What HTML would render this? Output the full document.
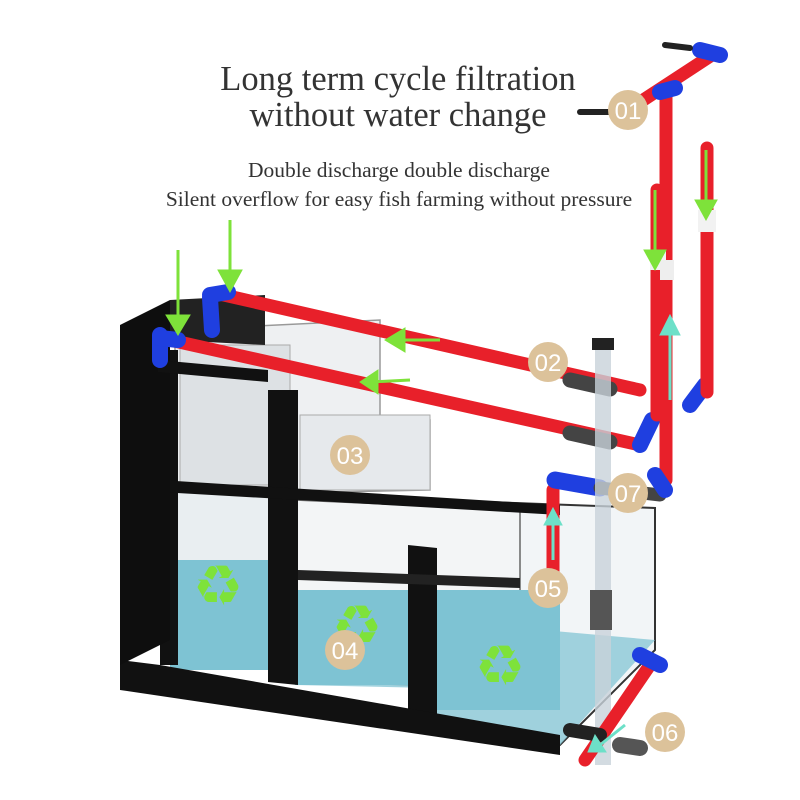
<!DOCTYPE html>
<html><head><meta charset="utf-8"><style>
body{margin:0;background:#fff}
svg{display:block}
.t{font-family:"Liberation Serif",serif;fill:#333;text-anchor:middle}
.n{font-family:"Liberation Sans",sans-serif;fill:#fff;font-size:24px;text-anchor:middle}
</style></head><body>
<svg width="800" height="800" viewBox="0 0 800 800" xmlns="http://www.w3.org/2000/svg">
<rect width="800" height="800" fill="#fff"/>
<text class="t" x="398" y="90" font-size="34.5">Long term cycle filtration</text>
<text class="t" x="398" y="126" font-size="34.5">without water change</text>
<text class="t" x="399" y="177" font-size="21.5">Double discharge double discharge</text>
<text class="t" x="399" y="206" font-size="21.5">Silent overflow for easy fish farming without pressure</text>

<!-- right glass tank -->
<polygon points="430,500 655,508 655,650 560,745 430,730" fill="#f2f5f7" stroke="#333" stroke-width="2"/>
<polygon points="430,620 655,640 560,745 430,730" fill="#8ac8d6" opacity="0.8"/>
<!-- filter boxes -->
<polygon points="175,330 380,320 380,420 430,420 430,490 175,495" fill="#eef0f2" stroke="#999" stroke-width="1.5"/>
<rect x="180" y="345" width="110" height="140" fill="#dde1e4" stroke="#aaa"/>
<rect x="300" y="415" width="130" height="75" fill="#e6e9ec" stroke="#aaa"/>
<!-- middle glass -->
<polygon points="295,500 520,510 520,690 295,680" fill="#f3f5f6" stroke="#666" stroke-width="1.5"/>
<polygon points="295,600 520,600 520,690 295,685" fill="#8fcad8" opacity="0.85"/>
<!-- left column -->
<polygon points="170,300 265,295 265,345 170,340" fill="#222"/>
<rect x="170" y="490" width="100" height="180" fill="#e9eef1"/>
<rect x="170" y="560" width="100" height="110" fill="#7ec3d3"/>
<rect x="295" y="590" width="115" height="95" fill="#7ec3d3"/>
<rect x="435" y="590" width="125" height="120" fill="#7ec3d3"/>
<!-- black frame -->
<polygon points="160,350 178,350 178,665 160,665" fill="#111"/>
<polygon points="268,390 298,390 298,685 268,682" fill="#111"/>
<polygon points="408,545 437,548 437,728 408,724" fill="#111"/>
<polygon points="120,660 160,665 560,735 560,755 120,690" fill="#111"/>
<polygon points="160,480 560,505 560,515 160,492" fill="#111"/>
<polygon points="298,570 520,578 520,588 298,580" fill="#222"/>
<polygon points="120,325 170,300 170,640 120,665" fill="#0e0e0e"/>
<polygon points="158,360 268,370 268,382 158,372" fill="#111"/>

<g stroke-linecap="round">
<line x1="215" y1="293" x2="640" y2="390" stroke="#e8202a" stroke-width="13"/>
<line x1="170" y1="340" x2="640" y2="445" stroke="#e8202a" stroke-width="13"/>
<line x1="210" y1="298" x2="212" y2="330" stroke="#1f3fe0" stroke-width="16"/>
<line x1="210" y1="295" x2="228" y2="292" stroke="#1f3fe0" stroke-width="16"/>
<line x1="160" y1="335" x2="160" y2="360" stroke="#1f3fe0" stroke-width="16"/>
<line x1="160" y1="338" x2="178" y2="340" stroke="#1f3fe0" stroke-width="16"/>
<line x1="570" y1="380" x2="610" y2="389" stroke="#444" stroke-width="15"/>
<line x1="570" y1="433" x2="610" y2="442" stroke="#444" stroke-width="15"/>
<line x1="640" y1="445" x2="652" y2="420" stroke="#1f3fe0" stroke-width="16"/>
<line x1="690" y1="405" x2="705" y2="385" stroke="#1f3fe0" stroke-width="16"/>
<line x1="666" y1="95" x2="666" y2="480" stroke="#e8202a" stroke-width="13"/>
<line x1="657" y1="190" x2="657" y2="415" stroke="#e8202a" stroke-width="13"/>
<line x1="707" y1="148" x2="707" y2="392" stroke="#e8202a" stroke-width="13"/>
<line x1="625" y1="112" x2="712" y2="55" stroke="#e8202a" stroke-width="13"/>
<line x1="700" y1="50" x2="720" y2="55" stroke="#1f3fe0" stroke-width="16"/>
<line x1="660" y1="92" x2="675" y2="88" stroke="#1f3fe0" stroke-width="16"/>
<line x1="580" y1="112" x2="615" y2="112" stroke="#222" stroke-width="6"/>
<line x1="665" y1="45" x2="690" y2="48" stroke="#222" stroke-width="6"/>
<rect x="650" y="250" width="16" height="20" fill="#f2f2f2"/>
<rect x="698" y="210" width="18" height="22" fill="#f2f2f2"/>
<rect x="660" y="260" width="14" height="20" fill="#eee"/>
<line x1="553" y1="490" x2="553" y2="590" stroke="#e8202a" stroke-width="13"/>
<line x1="555" y1="480" x2="600" y2="488" stroke="#1f3fe0" stroke-width="17"/>
<line x1="600" y1="488" x2="660" y2="495" stroke="#444" stroke-width="13"/>
<line x1="655" y1="475" x2="665" y2="490" stroke="#1f3fe0" stroke-width="16"/>
<rect x="595" y="345" width="16" height="420" fill="#c8d2da" opacity="0.8"/>
<rect x="592" y="338" width="22" height="12" fill="#222"/>
<rect x="590" y="590" width="22" height="40" fill="#555"/>
<line x1="650" y1="665" x2="585" y2="760" stroke="#e8202a" stroke-width="13"/>
<line x1="640" y1="655" x2="660" y2="665" stroke="#1f3fe0" stroke-width="16"/>
<line x1="570" y1="730" x2="600" y2="735" stroke="#222" stroke-width="14"/>
<line x1="620" y1="745" x2="640" y2="748" stroke="#555" stroke-width="16"/>
</g>
<g fill="#7ee23a" stroke="#7ee23a">
<line x1="178" y1="250" x2="178" y2="320" stroke-width="3"/><polygon points="166,315 190,315 178,335"/>
<line x1="230" y1="220" x2="230" y2="275" stroke-width="3"/><polygon points="218,270 242,270 230,292"/>
<line x1="655" y1="190" x2="655" y2="255" stroke-width="3"/><polygon points="644,250 666,250 655,270"/>
<line x1="706" y1="150" x2="706" y2="205" stroke-width="3"/><polygon points="695,200 717,200 706,220"/>
<line x1="440" y1="340" x2="395" y2="340" stroke-width="3"/><polygon points="405,328 405,352 385,340"/>
<line x1="410" y1="380" x2="370" y2="382" stroke-width="3"/><polygon points="378,370 378,394 360,382"/>
</g>
<g fill="#6de0c8" stroke="#6de0c8">
<line x1="670" y1="330" x2="670" y2="400" stroke-width="3"/><polygon points="660,335 680,335 670,315"/>
<line x1="553" y1="520" x2="553" y2="560" stroke-width="3"/><polygon points="544,525 562,525 553,508"/>
<line x1="625" y1="725" x2="600" y2="745" stroke-width="3"/><polygon points="595,735 606,752 588,752"/>
</g>
<g font-family="DejaVu Sans,sans-serif" font-size="56" fill="#7ee23a" text-anchor="middle" font-weight="bold">
<text x="218" y="605">♻</text><text x="357" y="645">♻</text><text x="500" y="685">♻</text>
</g>
<g fill="#dcc29a">
<circle cx="628" cy="110" r="20"/><circle cx="548" cy="362" r="20"/><circle cx="350" cy="455" r="20"/>
<circle cx="345" cy="650" r="20"/><circle cx="548" cy="588" r="20"/><circle cx="665" cy="732" r="20"/>
<circle cx="628" cy="493" r="20"/>
</g>
<text class="n" x="628" y="119">01</text><text class="n" x="548" y="371">02</text><text class="n" x="350" y="464">03</text>
<text class="n" x="345" y="659">04</text><text class="n" x="548" y="597">05</text><text class="n" x="665" y="741">06</text>
<text class="n" x="628" y="502">07</text>
</svg>
</body></html>
